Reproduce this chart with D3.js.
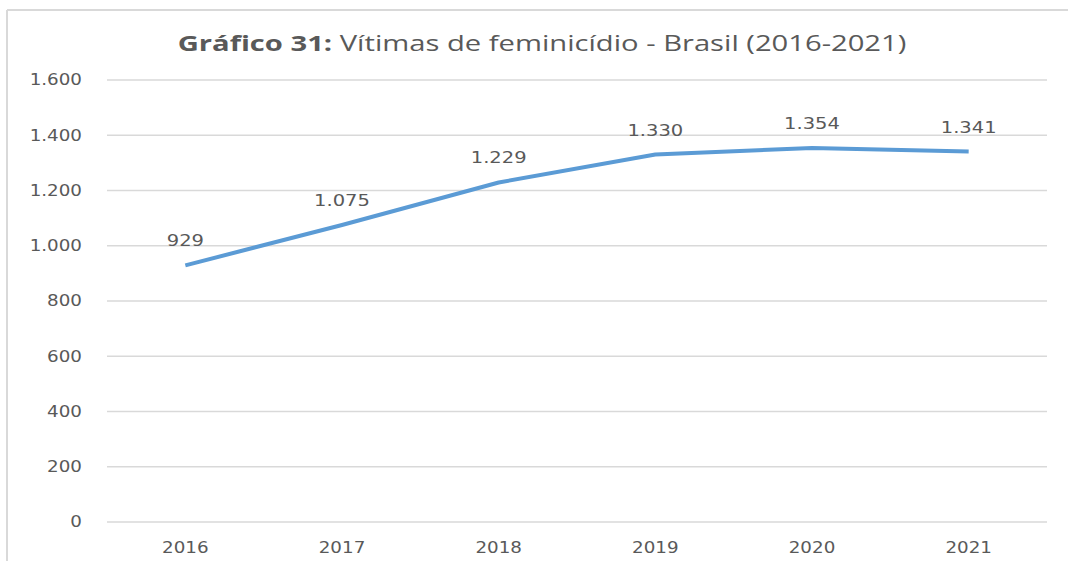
<!DOCTYPE html>
<html>
<head>
<meta charset="utf-8">
<script src="https://cdn.jsdelivr.net/npm/d3@7"></script>
<style>
  body { margin: 0; background: #fff; }
  text { font-family: "DejaVu Sans", sans-serif; fill: #595959; }
</style>
</head>
<body>
<script>
// data
var years = ["2016", "2017", "2018", "2019", "2020", "2021"];
var victims = [929, 1075, 1229, 1330, 1354, 1341];
var yTicks = [0, 200, 400, 600, 800, 1000, 1200, 1400, 1600];

var W = 1068, H = 561;
var m = {left: 107, right: 21, top: 80, bottom: 39};
var sx = 1.22; // source picture is stretched horizontally

var svg = d3.select("body").append("svg")
    .attr("width", W)
    .attr("height", H);

// frame lines (top and left only)
svg.append("line")
    .attr("x1", 7).attr("x2", W).attr("y1", 10).attr("y2", 10)
    .attr("stroke", "#d9d9d9").attr("stroke-width", 2);
svg.append("line")
    .attr("x1", 7).attr("x2", 7).attr("y1", 10).attr("y2", H)
    .attr("stroke", "#d9d9d9").attr("stroke-width", 2);

var x = d3.scalePoint()
    .domain(years)
    .range([m.left, W - m.right])
    .padding(0.5);

var y = d3.scaleLinear()
    .domain([0, 1600])
    .range([H - m.bottom, m.top]);

var fmt = function(v) { return d3.format(",")(v).replace(/,/g, "."); };
var at = function(px, py) { return "translate(" + px + "," + py + ")scale(" + sx + ",1)"; };

// gridlines
svg.append("g")
  .selectAll("line")
    .data(yTicks)
  .enter().append("line")
    .attr("x1", m.left)
    .attr("x2", W - m.right)
    .attr("y1", function(d) { return y(d); })
    .attr("y2", function(d) { return y(d); })
    .attr("stroke", "#d9d9d9")
    .attr("stroke-width", 1.5);

// y labels
svg.append("g")
  .selectAll("text")
    .data(yTicks)
  .enter().append("text")
    .attr("transform", function(d) { return at(82, y(d)); })
    .attr("dy", "0.35em")
    .attr("text-anchor", "end")
    .style("font-size", "15px")
    .text(fmt);

// x labels
svg.append("g")
  .selectAll("text")
    .data(years)
  .enter().append("text")
    .attr("transform", function(d) { return at(x(d), 553); })
    .attr("text-anchor", "middle")
    .style("font-size", "15px")
    .text(function(d) { return d; });

// line
var line = d3.line()
    .x(function(d, i) { return x(years[i]); })
    .y(function(d) { return y(d); });

svg.append("path")
    .datum(victims)
    .attr("d", line)
    .attr("fill", "none")
    .attr("stroke", "#5b9bd5")
    .attr("stroke-width", 4)
    .attr("stroke-linejoin", "round");

// data labels
svg.append("g")
  .selectAll("text")
    .data(victims)
  .enter().append("text")
    .attr("transform", function(d, i) { return at(x(years[i]), y(d) - 19); })
    .attr("text-anchor", "middle")
    .style("font-size", "16px")
    .text(fmt);

// title, stretched to the width seen in the picture
var title = svg.append("text")
    .attr("text-anchor", "middle")
    .style("font-family", "'Open Sans', sans-serif")
    .style("font-size", "22px");
title.append("tspan").style("font-weight", "bold").text("Gráfico 31:");
title.append("tspan").text(" Vítimas de feminicídio - Brasil (2016-2021)");
var tw = title.node().getComputedTextLength();
title.attr("transform", "translate(542,51)scale(" + (729 / tw) + ",1)");
</script>
</body>
</html>
